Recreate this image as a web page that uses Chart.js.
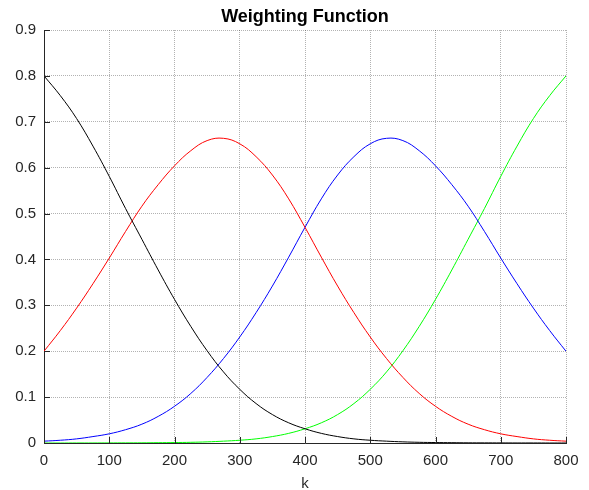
<!DOCTYPE html>
<html>
<head>
<meta charset="utf-8">
<script src="https://cdn.jsdelivr.net/npm/chart.js@4/dist/chart.umd.min.js"></script>
<style>
html,body{margin:0;padding:0;background:#fff;}
#wrap{width:589px;height:490px;}
</style>
</head>
<body>
<div id="wrap"><canvas id="c" width="589" height="490"></canvas></div>
<script>
const kValues = [0,25,50,75,100,125,150,175,200,225,250,275,300,325,350,375,400,425,450,475,500,525,550,575,600,625,650,675,700,725,750,775,800];
const blackW = [0.800,0.757,0.707,0.647,0.581,0.511,0.444,0.377,0.313,0.254,0.201,0.155,0.117,0.086,0.062,0.044,0.031,0.021,0.014,0.009,0.006,0.004,0.0025,0.0015,0.001,0.0007,0.0004,0.0003,0.0002,0.0001,0.0001,0.0000,0.0000];
const redW = [0.200,0.245,0.294,0.347,0.403,0.461,0.516,0.563,0.604,0.637,0.659,0.664,0.652,0.624,0.584,0.532,0.470,0.405,0.342,0.284,0.231,0.184,0.143,0.108,0.080,0.058,0.041,0.029,0.020,0.014,0.009,0.006,0.004];
const blueW = [0.004,0.006,0.009,0.014,0.020,0.029,0.041,0.058,0.080,0.108,0.143,0.184,0.231,0.284,0.342,0.405,0.470,0.532,0.584,0.624,0.652,0.664,0.659,0.637,0.604,0.563,0.516,0.461,0.403,0.347,0.294,0.245,0.200];
const greenW = [0.0000,0.0000,0.0001,0.0001,0.0002,0.0003,0.0004,0.0007,0.001,0.0015,0.0025,0.004,0.006,0.009,0.014,0.021,0.031,0.044,0.062,0.086,0.117,0.155,0.201,0.254,0.313,0.377,0.444,0.511,0.581,0.647,0.707,0.757,0.800];
const xTicks = [0,100,200,300,400,500,600,700,800];
const yTicks = [0,0.1,0.2,0.3,0.4,0.5,0.6,0.7,0.8,0.9];
const chartTitle = 'Weighting Function';
const xLabel = 'k';

function pts(arr){ return kValues.map((k,i)=>({x:k,y:arr[i]})); }
function ds(arr,color){
  return {data:pts(arr),borderColor:color,backgroundColor:color,borderWidth:1,pointRadius:0,fill:false,tension:0.4};
}

const innerTicks = {
  id:'innerTicks',
  afterDatasetsDraw(chart){
    const ctx = chart.ctx, xs = chart.scales.x, ys = chart.scales.y;
    const a = chart.chartArea;
    ctx.save();
    ctx.strokeStyle = '#262626';
    ctx.lineWidth = 1;
    ctx.beginPath();
    xTicks.forEach(v=>{
      const px = Math.round(xs.getPixelForValue(v))+0.5;
      ctx.moveTo(px, a.bottom); ctx.lineTo(px, a.bottom-6);
    });
    yTicks.forEach(v=>{
      const py = Math.round(ys.getPixelForValue(v))+0.5;
      ctx.moveTo(a.left, py); ctx.lineTo(a.left+6, py);
    });
    ctx.stroke();
    ctx.restore();
  }
};

new Chart(document.getElementById('c'), {
  type:'line',
  data:{datasets:[ds(blackW,'#000000'),ds(redW,'#ff0000'),ds(blueW,'#0000ff'),ds(greenW,'#00ff00')]},
  options:{
    responsive:false,
    animation:false,
    layout:{padding:{left:0,right:23,top:0,bottom:0}},
    plugins:{
      legend:{display:false},
      tooltip:{enabled:false},
      title:{display:true,text:chartTitle,fullSize:false,color:'#000',
        font:{family:'Liberation Sans, Arial, sans-serif',size:18,weight:'bold',lineHeight:1.2},
        padding:{top:6,bottom:2.4}}
    },
    scales:{
      x:{type:'linear',min:0,max:800,
        afterBuildTicks(s){ s.ticks = xTicks.map(v=>({value:v})); },
        afterFit(s){ s.height = 47; },
        grid:{color:'rgba(0,0,0,0.3)',drawTicks:false,lineWidth:1},
        border:{display:true,color:'#262626',width:1,dash:[1,1]},
        ticks:{padding:9,color:'#262626',font:{family:'Liberation Sans, Arial, sans-serif',size:15},maxRotation:0,autoSkip:false},
        title:{display:true,text:xLabel,color:'#262626',font:{family:'Liberation Sans, Arial, sans-serif',size:15,lineHeight:1},padding:{top:0,bottom:-1}}
      },
      y:{type:'linear',min:0,max:0.9,
        afterBuildTicks(s){ s.ticks = yTicks.map(v=>({value:v})); },
        afterFit(s){ s.width = 44; },
        grid:{color:'rgba(0,0,0,0.3)',drawTicks:false,lineWidth:1},
        border:{display:true,color:'#262626',width:1,dash:[1,1]},
        ticks:{padding:8,color:'#262626',font:{family:'Liberation Sans, Arial, sans-serif',size:15},
          callback:(v)=> (Math.round(v*10)/10).toString()}
      }
    }
  },
  plugins:[innerTicks]
});
</script>
</body>
</html>
